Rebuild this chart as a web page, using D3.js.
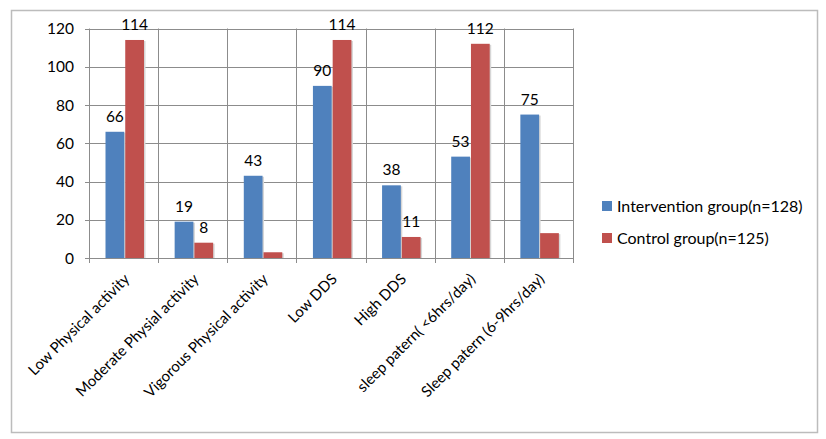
<!DOCTYPE html>
<html>
<head>
<meta charset="utf-8">
<script src="https://cdn.jsdelivr.net/npm/d3@7"></script>
<style>
  body { margin: 0; background: #fff; }
  text { font-family: Lato, "Open Sans", sans-serif; fill: #000; }
</style>
</head>
<body>
<div id="chart"></div>
<script>
var categories = ["Low Physical activity", "Moderate Physial activity", "Vigorous Physical activity",
                  "Low DDS", "High DDS", "sleep patern( <6hrs/day)", "Sleep patern (6-9hrs/day)"];
var seriesNames = ["Intervention group(n=128)", "Control group(n=125)"];
var intervention = [66, 19, 43, 90, 38, 53, 75];
var control = [114, 8, 3, 114, 11, 112, 13];
// data labels as printed (none on two of the control bars)
var interventionLabels = [66, 19, 43, 90, 38, 53, 75];
var controlLabels = [114, 8, null, 114, 11, 112, null];
var yTicks = [0, 20, 40, 60, 80, 100, 120];

var colors = ["#4f81bd", "#c0504d"];

function init() {
    var w = 826;
    var h = 439;
    var left = 89, right = 573, top = 28.5, bottom = 258;

    var svg = d3.select("#chart")
                .append("svg")
                .attr("width", w)
                .attr("height", h);

    // outer frame
    svg.append("rect")
       .attr("x", 11.5).attr("y", 10.5)
       .attr("width", 806).attr("height", 422)
       .attr("fill", "#fff")
       .attr("stroke", "#bcbcbc")
       .attr("stroke-width", 1.5);

    var xScale = d3.scaleBand()
                   .domain(d3.range(categories.length))
                   .range([left, right]);

    var xInner = d3.scaleBand()
                   .domain([0, 1])
                   .range([16.5, 55])
                   .paddingInner(0.05);

    var yScale = d3.scaleLinear()
                   .domain([0, 120])
                   .range([bottom, top]);

    // horizontal grid
    svg.append("g")
       .selectAll("line")
       .data(yTicks)
       .enter()
       .append("line")
       .attr("x1", left - 4)
       .attr("x2", right)
       .attr("y1", function(d) { return Math.round(yScale(d)) + 0.5; })
       .attr("y2", function(d) { return Math.round(yScale(d)) + 0.5; })
       .attr("stroke", "#8c8c8c");

    // vertical grid at category boundaries
    var bounds = d3.range(categories.length + 1).map(function(i) {
        return i < categories.length ? xScale(i) : xScale(i - 1) + xScale.bandwidth();
    });
    svg.append("g")
       .selectAll("line")
       .data(bounds)
       .enter()
       .append("line")
       .attr("x1", function(d) { return Math.round(d) + 0.5; })
       .attr("x2", function(d) { return Math.round(d) + 0.5; })
       .attr("y1", top)
       .attr("y2", bottom + 5)
       .attr("stroke", "#8c8c8c");

    // y axis labels
    svg.append("g")
       .selectAll("text")
       .data(yTicks)
       .enter()
       .append("text")
       .attr("x", 74)
       .attr("y", function(d) { return yScale(d); })
       .attr("dy", "0.36em")
       .attr("text-anchor", "end")
       .style("font-size", "15.5px")
       .text(function(d) { return d; });

    var series = [intervention, control];
    var labels = [interventionLabels, controlLabels];

    series.forEach(function(values, s) {
        var g = svg.append("g");

        // soft shadow behind bars
        g.selectAll("rect.shadow")
         .data(values)
         .enter()
         .append("rect")
         .attr("class", "shadow")
         .attr("x", function(d, i) { return xScale(i) + xInner(s) + 1.5; })
         .attr("y", function(d) { return yScale(d) + 1; })
         .attr("width", xInner.bandwidth())
         .attr("height", function(d) { return bottom - yScale(d) - 1; })
         .attr("fill", "#d6d6d6");

        g.selectAll("rect.bar")
         .data(values)
         .enter()
         .append("rect")
         .attr("class", "bar")
         .attr("x", function(d, i) { return xScale(i) + xInner(s); })
         .attr("y", function(d) { return yScale(d); })
         .attr("width", xInner.bandwidth())
         .attr("height", function(d) { return bottom - yScale(d); })
         .attr("fill", colors[s]);

        var labelData = labels[s].map(function(d, i) { return { label: d, i: i }; })
                                 .filter(function(d) { return d.label !== null; });

        g.selectAll("text")
         .data(labelData)
         .enter()
         .append("text")
         .attr("x", function(d) { return xScale(d.i) + xInner(s) + xInner.bandwidth() / 2; })
         .attr("y", function(d) { return yScale(values[d.i]) - 10; })
         .attr("text-anchor", "middle")
         .style("font-size", "15.5px")
         .text(function(d) { return d.label; });
    });

    // category labels, rotated
    svg.append("g")
       .selectAll("text")
       .data(categories)
       .enter()
       .append("text")
       .attr("transform", function(d, i) {
           return "translate(" + (xScale(i) + xScale.bandwidth() / 2 + 7) + "," + 280 + ") rotate(-45)";
       })
       .attr("text-anchor", "end")
       .style("font-size", "15px")
       .text(function(d) { return d; });

    // legend
    var legend = svg.append("g")
                    .selectAll("g")
                    .data(seriesNames)
                    .enter()
                    .append("g")
                    .attr("transform", function(d, i) {
                        return "translate(602," + (206 + i * 32) + ")";
                    });

    legend.append("rect")
          .attr("x", 0).attr("y", -5)
          .attr("width", 10).attr("height", 10)
          .attr("fill", function(d, i) { return colors[i]; });

    legend.append("text")
          .attr("x", 15)
          .attr("y", 0)
          .attr("dy", "0.36em")
          .style("font-size", "16px")
          .text(function(d) { return d; });
}

window.onload = init;
</script>
</body>
</html>
